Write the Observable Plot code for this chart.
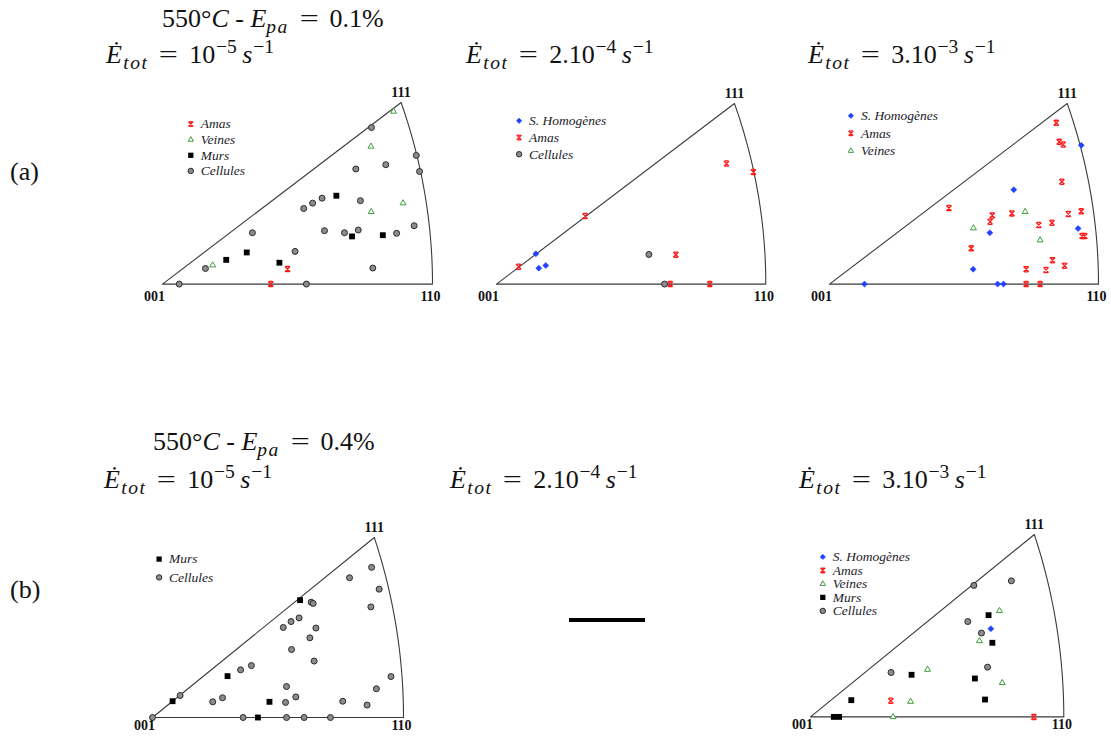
<!DOCTYPE html>
<html><head><meta charset="utf-8">
<script src="https://cdn.jsdelivr.net/npm/d3@7"></script>
<script src="https://cdn.jsdelivr.net/npm/@observablehq/plot@0.6"></script>
<style>
body{margin:0;background:#fff;}
#page{position:relative;width:1111px;height:737px;overflow:hidden;font-family:"Liberation Serif",serif;color:#111;}
.t{position:absolute;white-space:nowrap;font-size:26px;line-height:1;}
.t .E{margin-right:0.05em;}
.t .sb{font-size:0.75em;vertical-align:-0.3em;letter-spacing:0.08em;}
.t .sp{font-size:0.75em;vertical-align:0.5em;margin-left:0.04em;}
.t .eq{margin:0 0.5em;display:inline-block;transform:scaleX(1.3);}
.t .gap{margin-left:0.22em;}
.panel{position:absolute;}
.panel svg{max-width:none !important;overflow:visible;}
.bar{position:absolute;background:#000;}
</style></head>
<body><div id="page"></div>
<script>
// ---------- data (stereographic IPF coords, 001=(0,0), 110=(1,0), 111=(0.884,0.884)) ----------
const rowTitles = ["0.1%", "0.4%"];
const rowLabels = ["(a)", "(b)"];
const rates = [["10", "−5"], ["2.10", "−4"], ["3.10", "−3"]];
const vertexLabels = ["001", "110", "111"];

const a1Amas = [[0.401,0],[0.463,0.073]];
const a1Veines = [[0.856,0.840],[0.772,0.670],[0.891,0.394],[0.773,0.352],[0.186,0.092]];
const a1Murs = [[0.644,0.430],[0.312,0.154],[0.236,0.118],[0.433,0.104],[0.702,0.232],[0.816,0.238]];
const a1Cellules = [[0.774,0.762],[0.940,0.626],[0.952,0.548],[0.827,0.581],[0.716,0.560],[0.591,0.418],[0.556,0.394],[0.523,0.368],[0.733,0.406],[0.333,0.250],[0.600,0.260],[0.674,0.250],[0.725,0.263],[0.867,0.247],[0.932,0.284],[0.491,0.159],[0.159,0.076],[0.062,0],[0.533,0],[0.779,0.078]];

const a2Homog = [[0.146,0.148],[0.157,0.078],[0.183,0.091]];
const a2Amas = [[0.082,0.085],[0.329,0.333],[0.854,0.590],[0.954,0.548],[0.666,0.144],[0.645,0],[0.792,0]];
const a2Cellules = [[0.566,0.145],[0.624,0]];

const a3Homog = [[0.936,0.679],[0.685,0.462],[0.596,0.251],[0.924,0.272],[0.534,0.073],[0.130,0],[0.625,0],[0.647,0]];
const a3Amas = [[0.843,0.789],[0.854,0.696],[0.869,0.683],[0.864,0.501],[0.444,0.372],[0.605,0.336],[0.597,0.305],[0.678,0.346],[0.778,0.289],[0.827,0.300],[0.888,0.343],[0.936,0.356],[0.939,0.235],[0.949,0.235],[0.527,0.175],[0.731,0.073],[0.805,0.069],[0.829,0.117],[0.874,0.090],[0.731,0],[0.783,0]];
const a3Veines = [[0.727,0.354],[0.535,0.274],[0.783,0.215]];

const b1Murs = [[0.588,0.576],[0.299,0.203],[0.080,0.080],[0.466,0.077],[0.420,0]];
const b1Cellules = [[0.873,0.737],[0.785,0.686],[0.903,0.630],[0.870,0.543],[0.632,0.566],[0.640,0.560],[0.584,0.489],[0.552,0.471],[0.521,0.442],[0.651,0.439],[0.627,0.391],[0.554,0.334],[0.644,0.277],[0.394,0.255],[0.351,0.234],[0.950,0.201],[0.534,0.152],[0.892,0.141],[0.571,0.101],[0.279,0.097],[0.240,0.077],[0.530,0.074],[0.758,0.080],[0.855,0.061],[0.110,0.108],[0,0],[0.361,0],[0.534,0],[0.604,0],[0.709,0]];

const b3Homog = [[0.712,0.427]];
const b3Amas = [[0.317,0.078],[0.882,0]];
const b3Veines = [[0.746,0.514],[0.667,0.368],[0.462,0.229],[0.757,0.165],[0.395,0.074],[0.326,0]];
const b3Murs = [[0.703,0.493],[0.718,0.359],[0.399,0.204],[0.649,0.186],[0.689,0.084],[0.161,0.081],[0.092,0],[0.113,0]];
const b3Cellules = [[0.793,0.659],[0.645,0.637],[0.621,0.462],[0.675,0.406],[0.699,0.241],[0.318,0.215]];

// ---------- geometry ----------
const K = Math.SQRT2 - 1;
const Y111 = 1 / ((Math.sqrt(3) + 1) * K);
const outline = [{X:0,Y:0},{X:1,Y:0}];
for (let i = 1; i <= 40; i++) { const t = i/40, n = Math.sqrt(2 + t*t); outline.push({X: 1/((n+1)*K), Y: t/((n+1)*K)}); }
outline.push({X:0,Y:0});
const corners = [{X:0,Y:0},{X:1,Y:0},{X:Y111,Y:Y111}];

const hourglass = { draw(ctx, size) { const s = Math.sqrt(size/Math.PI);
  ctx.moveTo(-s,-s); ctx.lineTo(s,s); ctx.moveTo(s,-s); ctx.lineTo(-s,s);
  ctx.moveTo(-s*0.7,-s); ctx.lineTo(s*0.7,-s); ctx.moveTo(-s*0.7,s); ctx.lineTo(s*0.7,s); } };

const styles = {
  "S. Homogènes": {symbol:"diamond2", r:2.7, fill:"#2241ff", stroke:"#2241ff", strokeWidth:0.6},
  "Amas": {symbol:hourglass, r:2.6, fill:"none", stroke:"#ff1a1a", strokeWidth:1.3},
  "Veines": {symbol:"triangle", r:2.2, fill:"#fff", stroke:"#3d9b3d", strokeWidth:1},
  "Murs": {symbol:"square", r:3.3, fill:"#000", stroke:"none"},
  "Cellules": {symbol:"circle", r:3, fill:"#8c8c8c", stroke:"#2a2a2a", strokeWidth:1}
};
const drawOrder = ["Cellules","Murs","Veines","Amas","S. Homogènes"];

const panels = [
  {g:{x0:161.7,y0:283.3,W:270,H:181.6}, lg:{x:190,y:123.3,sp:15.6}, ld:12,
   series:[["Amas",a1Amas],["Veines",a1Veines],["Murs",a1Murs],["Cellules",a1Cellules]]},
  {g:{x0:495.7,y0:283.3,W:269.3,H:180.6}, lg:{x:518.3,y:120,sp:16.7}, ld:12,
   series:[["S. Homogènes",a2Homog],["Amas",a2Amas],["Cellules",a2Cellules]]},
  {g:{x0:829.3,y0:283.3,W:269,H:180.6}, lg:{x:850.7,y:115,sp:17.5}, ld:12,
   series:[["S. Homogènes",a3Homog],["Amas",a3Amas],["Veines",a3Veines]]},
  {g:{x0:151.7,y0:716.7,W:251,H:180}, lg:{x:158.3,y:558.3,sp:18.3}, ld:8,
   series:[["Murs",b1Murs],["Cellules",b1Cellules]]},
  {g:{x0:810,y0:716.7,W:253.3,H:182.4}, lg:{x:822.3,y:556.7,sp:13.5}, ld:8,
   series:[["S. Homogènes",b3Homog],["Amas",b3Amas],["Veines",b3Veines],["Murs",b3Murs],["Cellules",b3Cellules]]}
];

const page = document.getElementById("page");
const PL = 50, PT = 40;
for (const p of panels) {
  const {x0,y0,W,H} = p.g;
  const left = x0 - PL, top = y0 - H - PT;
  const marks = [Plot.line(outline, {x:"X", y:"Y", stroke:"#3a3a3a", strokeWidth:1.1})];
  const ordered = [...p.series].sort((a,b)=>drawOrder.indexOf(a[0])-drawOrder.indexOf(b[0]));
  for (const [name, pts] of ordered) marks.push(Plot.dot(pts, {x:d=>d[0], y:d=>d[1], ...styles[name]}));
  const vf = {fontWeight:"bold", fontFamily:"Liberation Serif", fontSize:14, fill:"#111"};
  marks.push(Plot.text([corners[0]], {x:"X", y:"Y", text:()=>vertexLabels[0], dx:-8, dy:p.ld, ...vf}));
  marks.push(Plot.text([corners[1]], {x:"X", y:"Y", text:()=>vertexLabels[1], dx:-2, dy:p.ld, ...vf}));
  marks.push(Plot.text([corners[2]], {x:"X", y:"Y", text:()=>vertexLabels[2], dx:0, dy:-10, ...vf}));
  p.series.forEach(([name], i) => {
    const st = styles[name];
    marks.push(Plot.dot([name], {frameAnchor:"top-left", dx:p.lg.x-left, dy:p.lg.y-top+i*p.lg.sp, ...st, r:st.r*0.9}));
    marks.push(Plot.text([name], {frameAnchor:"top-left", dx:p.lg.x-left+10, dy:p.lg.y-top+i*p.lg.sp, text:d=>d,
      textAnchor:"start", lineAnchor:"middle", fontStyle:"italic", fontFamily:"Liberation Serif", fontSize:13.5, fill:"#1c1c2a"}));
  });
  const w = W + 2*PL, h = H + PT + 30;
  const chart = Plot.plot({
    width: w, height: h, margin: 0,
    x: {domain:[0,1], range:[PL, PL+W], axis:null},
    y: {domain:[0,Y111], range:[PT+H, PT], axis:null},
    style: {background:"transparent", overflow:"visible"},
    marks
  });
  const div = document.createElement("div");
  div.className = "panel"; div.style.left = left+"px"; div.style.top = top+"px";
  div.style.width = w+"px"; div.style.height = h+"px";
  div.appendChild(chart); page.appendChild(div);
}

// ---------- titles ----------
function addText(html, left, top, size) {
  const d = document.createElement("div"); d.className = "t"; d.innerHTML = html;
  d.style.left = left+"px"; d.style.top = top+"px"; if (size) d.style.fontSize = size+"px";
  page.appendChild(d);
}
const rowTop = [[6, 37], [429, 462]];
const rateLeft = [[106, 466, 808], [104, 450, 799]];
const titleLeft = [162, 153];
const labelTop = [159, 577];
rowTitles.forEach((v, r) => {
  addText(`550°<i>C</i> - <i>E</i><span class="sb"><i>pa</i></span><span class="eq">=</span>${v}`, titleLeft[r], rowTop[r][0]);
  rates.forEach(([m, e], c) => {
    addText(`<i class="E">Ė</i><span class="sb"><i>tot</i></span><span class="eq">=</span>${m}<span class="sp">${e}</span><span class="gap"></span><i>s</i><span class="sp">−1</span>`, rateLeft[r][c], rowTop[r][1]);
  });
  addText(rowLabels[r], 10, labelTop[r], 26);
});
const bar = document.createElement("div"); bar.className = "bar";
bar.style.left = "569px"; bar.style.top = "618px"; bar.style.width = "76px"; bar.style.height = "4px";
page.appendChild(bar);
</script>
</body></html>
